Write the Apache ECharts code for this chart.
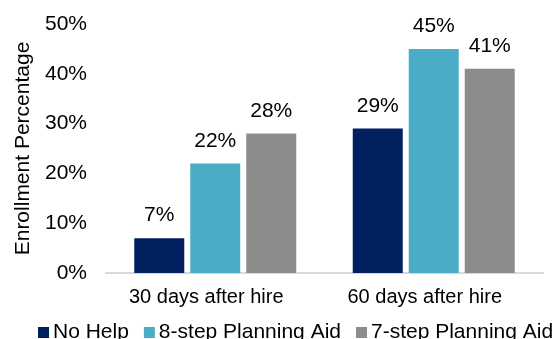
<!DOCTYPE html>
<html>
<head>
<meta charset="utf-8">
<script src="https://cdn.jsdelivr.net/npm/echarts@6/dist/echarts.min.js"></script>
<style>
html,body{margin:0;padding:0;background:#fff;}
#chart{width:555px;height:339px;}
</style>
</head>
<body>
<div id="chart"></div>
<script>
const categories = ['30 days after hire', '60 days after hire'];
const seriesNames = ['No Help', '8-step Planning Aid', '7-step Planning Aid'];
const noHelp = [7, 29];
const eightStep = [22, 45];
const sevenStep = [28, 41];
const yTicks = [0, 10, 20, 30, 40, 50];
const yAxisName = 'Enrollment Percentage';

const colors = ['#002060', '#4BACC6', '#8C8C8C'];
const font = 'Liberation Sans, Arial, sans-serif';
const fs = 21;

const chart = echarts.init(document.getElementById('chart'));
const valuesList = [noHelp, eightStep, sevenStep];
chart.setOption({
  animation: false,
  textStyle: { fontFamily: font },
  grid: { left: 106, right: 12, top: 24, bottom: 66, containLabel: false },
  legend: {
    left: 33, top: 317, width: 700,
    itemWidth: 11, itemHeight: 11, itemGap: 15,
    icon: 'rect',
    textStyle: { fontFamily: font, fontSize: fs, color: '#000', padding: [0, 0, 0, -1] },
    data: seriesNames
  },
  xAxis: {
    type: 'category',
    data: categories,
    axisLine: { lineStyle: { color: '#D9D9D9', width: 2 } },
    axisTick: { show: false },
    axisLabel: { fontFamily: font, fontSize: 20, color: '#000', margin: 14, padding: [0, 18, 0, 0] }
  },
  yAxis: {
    type: 'value',
    min: 0, max: 50, interval: 10,
    name: yAxisName,
    nameLocation: 'middle',
    nameGap: 68,
    nameTextStyle: { fontFamily: font, fontSize: fs, color: '#000' },
    splitLine: { show: false },
    axisLine: { show: false },
    axisTick: { show: false },
    axisLabel: {
      fontFamily: font, fontSize: fs, color: '#000', margin: 19,
      formatter: function (v) { return yTicks.indexOf(v) >= 0 ? v + '%' : ''; }
    }
  },
  series: seriesNames.map(function (name, i) {
    return {
      name: name,
      type: 'bar',
      data: valuesList[i],
      barWidth: 50,
      barGap: '12%',
      itemStyle: { color: colors[i] },
      label: {
        show: true, position: 'top', distance: 12,
        fontFamily: font, fontSize: fs, color: '#000',
        formatter: '{c}%'
      }
    };
  })
});
</script>
</body>
</html>
